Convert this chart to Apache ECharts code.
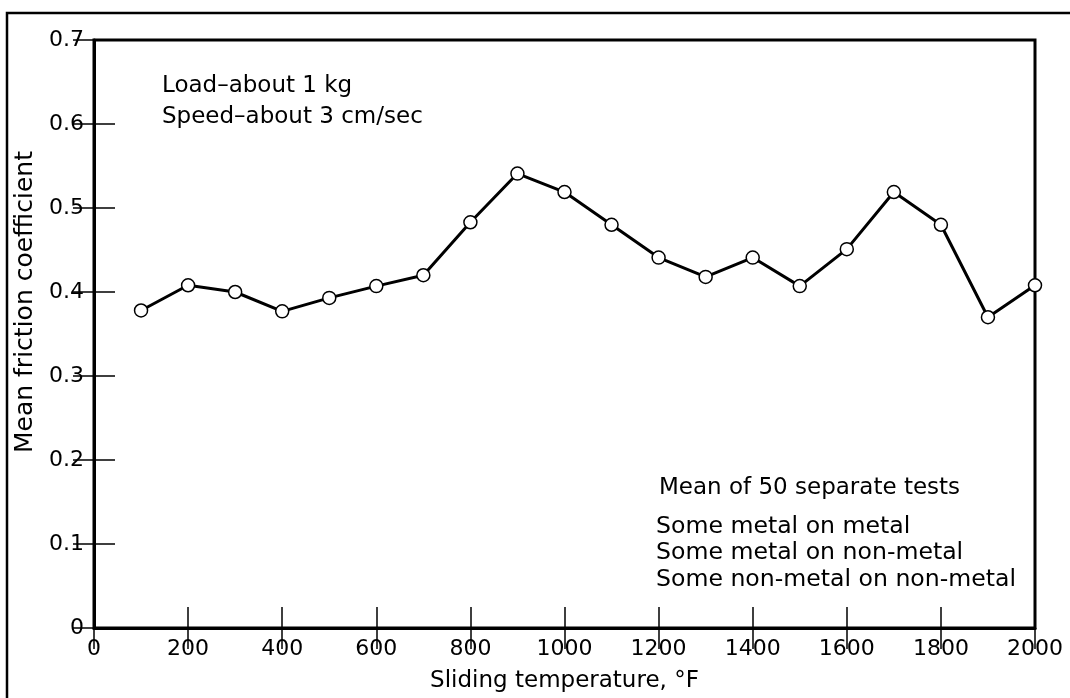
<!DOCTYPE html>
<html>
<head>
<meta charset="utf-8">
<script src="https://cdn.jsdelivr.net/npm/echarts@6/dist/echarts.min.js"></script>
<style>
  html, body { margin: 0; padding: 0; background: #fff; }
  #main { width: 1070px; height: 698px; }
</style>
</head>
<body>
<div id="main"></div>
<script>
var myChart = echarts.init(document.getElementById('main'));

// sliding temperature, °F
let temps = [100, 200, 300, 400, 500, 600, 700, 800, 900, 1000, 1100, 1200, 1300, 1400, 1500, 1600, 1700, 1800, 1900, 2000]
// mean friction coefficient
let friction = [0.378, 0.408, 0.400, 0.377, 0.393, 0.407, 0.420, 0.483, 0.541, 0.519, 0.480, 0.441, 0.418, 0.441, 0.407, 0.451, 0.519, 0.480, 0.370, 0.408]

let notesTop = ['Load\u2013about 1 kg', 'Speed\u2013about 3 cm/sec']
let notesBottom = ['Mean of 50 separate tests', 'Some metal on metal', 'Some metal on non-metal', 'Some non-metal on non-metal']

let font = 'DejaVu Sans'

// ticks pointing inwards, same on all 4 sides
let tick = { show: true, inside: true, length: 21, lineStyle: { color: '#000', width: 1.5 } }

var option = {
    animation: false,
    backgroundColor: '#fff',
    grid: {
        left: 94, right: 35, top: 40, bottom: 67,
        show: true,
        borderColor: '#000',
        borderWidth: 3
    },
    xAxis: [
        {
            type: 'value',
            min: 0, max: 2000, interval: 200,
            name: 'Sliding temperature, \u00b0F',
            nameLocation: 'middle',
            nameGap: 42,
            nameTextStyle: { fontFamily: font, fontSize: 23, color: '#000' },
            axisLine: { show: true, lineStyle: { color: '#000', width: 3 } },
            axisTick: tick,
            axisLabel: { fontFamily: font, fontSize: 22, color: '#000', margin: 10, formatter: v => String(v) },
            splitLine: { show: false }
        },
        {
            type: 'value', position: 'top',
            min: 0, max: 2000, interval: 200,
            axisLine: { show: false },
            axisTick: tick,
            axisLabel: { show: false },
            splitLine: { show: false }
        }
    ],
    yAxis: [
        {
            type: 'value',
            min: 0, max: 0.7, interval: 0.1,
            name: 'Mean friction coefficient',
            nameLocation: 'middle',
            nameGap: 56,
            nameTextStyle: { fontFamily: font, fontSize: 25, color: '#000', padding: [0, 0, 0, 64] },
            axisLine: { show: true, lineStyle: { color: '#000', width: 3 } },
            axisTick: tick,
            axisLabel: { fontFamily: font, fontSize: 22, color: '#000', margin: 10 },
            splitLine: { show: false }
        },
        {
            type: 'value', position: 'right',
            min: 0, max: 0.7, interval: 0.1,
            axisLine: { show: false },
            axisTick: tick,
            axisLabel: { show: false },
            splitLine: { show: false }
        }
    ],
    series: [
        {
            type: 'line',
            data: temps.map((t, i) => [t, friction[i]]),
            symbol: 'circle',
            symbolSize: 13,
            lineStyle: { color: '#000', width: 3 },
            itemStyle: { color: '#fff', borderColor: '#000', borderWidth: 1.5 },
            z: 5
        }
    ],
    graphic: [
        // outer frame (left and top edges only)
        {
            type: 'polyline',
            shape: { points: [[7, 698], [7, 13], [1070, 13]] },
            style: { stroke: '#000', lineWidth: 2.5, fill: null }
        }
    ]
};

notesTop.forEach((t, i) => {
    option.graphic.push({
        type: 'text', left: 162, top: 75 + i * 31,
        style: { text: t, font: '23px ' + font, fill: '#000' }
    })
})
let bottomY = [477, 515, 541, 568]
notesBottom.forEach((t, i) => {
    option.graphic.push({
        type: 'text', left: i == 0 ? 659 : 656, top: bottomY[i],
        style: { text: t, font: (i == 0 ? '23px ' : '23.6px ') + font, fill: '#000' }
    })
})

myChart.setOption(option);
</script>
</body>
</html>
